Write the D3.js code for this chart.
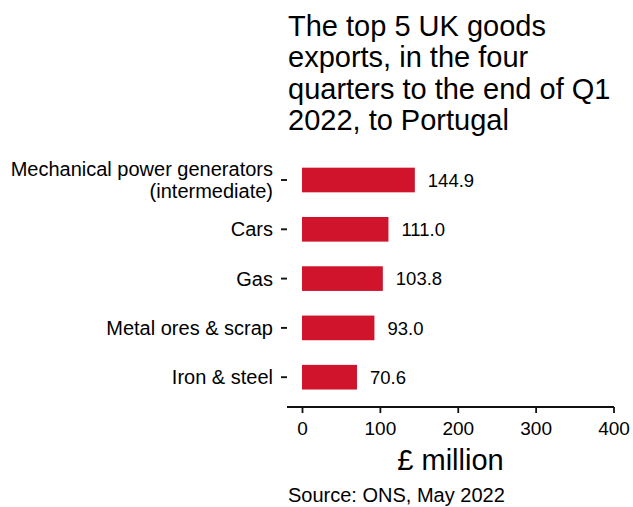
<!DOCTYPE html>
<html>
<head>
<meta charset="utf-8">
<script src="https://cdn.jsdelivr.net/npm/d3@7"></script>
<style>
  body { margin: 0; background: #fff; }
  svg text { font-family: "Liberation Sans", Arial, sans-serif; fill: #000; }
</style>
</head>
<body>
<div id="chart"></div>
<script>

	// top 5 exports, £ million
	var categories = ["Mechanical power generators\n(intermediate)", "Cars", "Gas", "Metal ores & scrap", "Iron & steel"];
	var values = [144.9, 111.0, 103.8, 93.0, 70.6];
	var xTicks = [0, 100, 200, 300, 400];

	var titleLines = ["The top 5 UK goods", "exports, in the four", "quarters to the end of Q1", "2022, to Portugal"];

	var width = 633, height = 507;
	var panelLeft = 287, panelRight = 614, panelBottom = 407;

	var svg = d3.select("#chart").append("svg")
		.attr("width", width)
		.attr("height", height)

	var x = d3.scaleLinear().domain([0, 400]).range([302, 613.5]);
	var y = d3.scaleBand().domain(categories).range([155.35, 401.85]).paddingInner(0.5).paddingOuter(0.25);

	// title
	svg.append("text")
		.attr("x", 288).attr("y", 36)
		.style("font-size", "29px")
		.selectAll("tspan").data(titleLines).enter().append("tspan")
		.attr("x", 288)
		.attr("dy", function(d, i){ return i == 0 ? 0 : 31.3; })
		.text(function(d){ return d; })

	// bars
	svg.append("g").selectAll("rect").data(values).enter().append("rect")
		.attr("x", x(0))
		.attr("y", function(d, i){ return y(categories[i]); })
		.attr("width", function(d){ return x(d) - x(0); })
		.attr("height", y.bandwidth())
		.attr("fill", "#CF142B")

	// value labels
	svg.append("g").selectAll("text").data(values).enter().append("text")
		.attr("x", function(d){ return x(d) + 13; })
		.attr("y", function(d, i){ return y(categories[i]) + y.bandwidth() / 2; })
		.attr("dy", "0.36em")
		.style("font-size", "18.5px")
		.text(function(d){ return d3.format(".1f")(d); })

	// y axis
	var yAxis = svg.append("g")
		.attr("transform", "translate(" + panelLeft + ",0)")
		.call(d3.axisLeft(y).tickSize(6).tickPadding(8))
	yAxis.select(".domain").remove()
	yAxis.selectAll("line").attr("stroke", "#111").attr("stroke-width", 1.9)
	yAxis.selectAll("text")
		.attr("fill", "#000")
		.style("font-size", "20px")
		.style("font-family", "'Liberation Sans', Arial, sans-serif")
		.each(function(d){
			var parts = d.split("\n");
			var t = d3.select(this).text(null).attr("dy", null);
			var lh = 21.5;
			var start = -(parts.length - 1) * lh / 2;
			parts.forEach(function(p, i){
				t.append("tspan")
					.attr("x", -14)
					.attr("dy", i == 0 ? (start + 7) + "px" : lh + "px")
					.text(p)
			})
		})

	// x axis
	var xAxis = svg.append("g")
		.attr("transform", "translate(0," + panelBottom + ")")
		.call(d3.axisBottom(x).tickValues(xTicks).tickSize(6).tickSizeOuter(0).tickPadding(9))
	xAxis.select(".domain").attr("d", "M" + panelLeft + ",0H" + panelRight).attr("stroke", "#111").attr("stroke-width", 1.8)
	xAxis.selectAll("line").attr("stroke", "#111").attr("stroke-width", 1.8)
	xAxis.selectAll("text")
		.attr("fill", "#000")
		.style("font-size", "19px")
		.style("font-family", "'Liberation Sans', Arial, sans-serif")

	svg.append("text")
		.attr("x", (panelLeft + panelRight) / 2).attr("y", 470)
		.attr("text-anchor", "middle")
		.style("font-size", "29px")
		.text("£ million")

	svg.append("text")
		.attr("x", 288).attr("y", 502)
		.style("font-size", "20px")
		.text("Source: ONS, May 2022")

</script>
</body>
</html>
